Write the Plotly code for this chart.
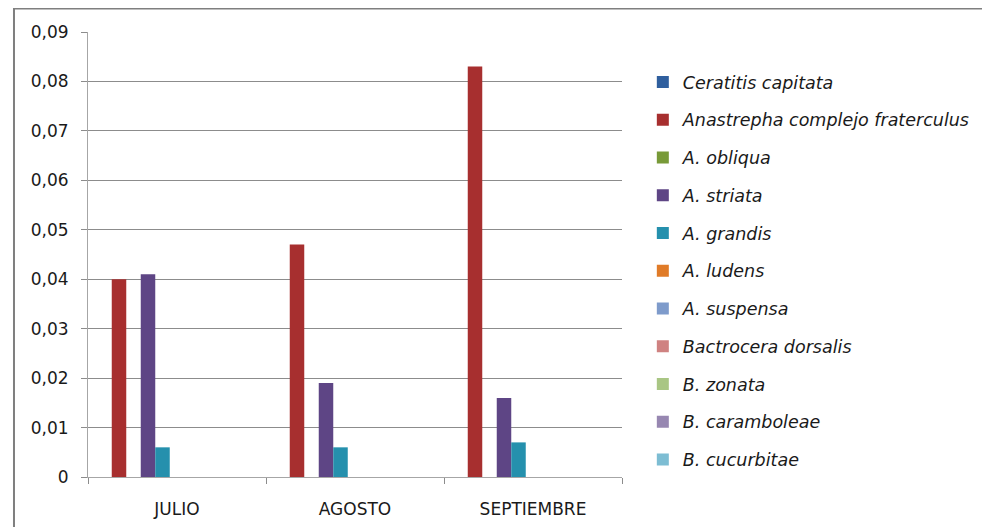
import plotly.graph_objects as go

months = ["JULIO", "AGOSTO", "SEPTIEMBRE"]
species = ["Ceratitis capitata", "Anastrepha complejo fraterculus", "A. obliqua",
           "A. striata", "A. grandis", "A. ludens", "A. suspensa",
           "Bactrocera dorsalis", "B. zonata", "B. caramboleae", "B. cucurbitae"]
values = {
    "Ceratitis capitata": [0, 0, 0],
    "Anastrepha complejo fraterculus": [0.040, 0.047, 0.083],
    "A. obliqua": [0, 0, 0],
    "A. striata": [0.041, 0.019, 0.016],
    "A. grandis": [0.006, 0.006, 0.007],
    "A. ludens": [0, 0, 0],
    "A. suspensa": [0, 0, 0],
    "Bactrocera dorsalis": [0, 0, 0],
    "B. zonata": [0, 0, 0],
    "B. caramboleae": [0, 0, 0],
    "B. cucurbitae": [0, 0, 0],
}
colors = ["#2F5F9E", "#A72F2F", "#789A38", "#5E4585", "#2590AD", "#E07B28",
          "#7E9BCB", "#CF8281", "#A9C684", "#9787B1", "#7DBDD3"]
tick_vals = [0, 0.01, 0.02, 0.03, 0.04, 0.05, 0.06, 0.07, 0.08, 0.09]
tick_text = ["0", "0,01", "0,02", "0,03", "0,04", "0,05", "0,06", "0,07", "0,08", "0,09"]

FONT = "DejaVu Sans"
fig = go.Figure()
for i, sp in enumerate(species):
    fig.add_trace(go.Bar(
        x=months, y=values[sp], name=sp, legendgroup=sp,
        marker=dict(color=colors[i], line=dict(width=0)),
    ))

fig.update_layout(
    width=990, height=527,
    margin=dict(l=80, r=376, t=24, b=58, autoexpand=False),
    paper_bgcolor="white", plot_bgcolor="white",
    barmode="group", bargap=0.104, bargroupgap=0,
    font=dict(family=FONT, size=17, color="#1a1a1a"),
    showlegend=True,
    legend=dict(x=1.039, xanchor="left", y=0.928, yanchor="top",
                font=dict(family=FONT, size=17.5, style="italic", color="#1a1a1a"),
                tracegroupgap=12, itemwidth=30),
    xaxis=dict(type="category", tickson="boundaries", ticks="outside", ticklen=6,
               tickcolor="#8c8c8c", showline=True, linecolor="#a6a6a6", linewidth=1,
               showgrid=False, tickfont=dict(family=FONT, size=17), automargin=False,
               ticklabelstandoff=17),
    yaxis=dict(range=[0, 0.09], tickvals=tick_vals, ticktext=tick_text,
               ticks="outside", ticklen=6, tickcolor="#8c8c8c",
               showline=True, linecolor="#a6a6a6", linewidth=1,
               showgrid=True, gridcolor="#8c8c8c", gridwidth=1, zeroline=False,
               tickfont=dict(family=FONT, size=17), automargin=False,
               ticklabelstandoff=9),
    shapes=[dict(type="rect", xref="paper", yref="paper",
                 x0=-0.1386, x1=2.0, y0=-0.5, y1=1.053,
                 line=dict(color="#7f7f7f", width=2), layer="below")],
)
fig.write_html("out.html")
